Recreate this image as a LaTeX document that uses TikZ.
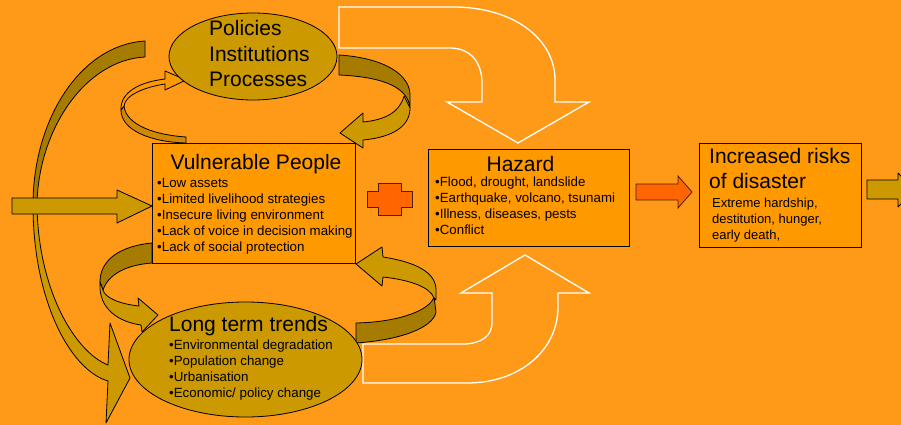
\documentclass[tikz,border=0pt]{standalone}
\usepackage{fontspec}
\setmainfont{Liberation Sans}
\usetikzlibrary{shapes.geometric}
\definecolor{bgor}{RGB}{254,154,24}
\definecolor{boxor}{RGB}{255,153,0}
\definecolor{gold}{RGB}{204,153,0}
\definecolor{dgold}{RGB}{166,124,0}
\definecolor{midor}{RGB}{208,136,0}
\definecolor{redor}{RGB}{255,102,0}
\begin{document}
\begin{tikzpicture}[x=1pt,y=-1pt,
  box/.style={draw=black, fill=boxor, line width=0.8pt, inner sep=0pt, anchor=north west},
  oval/.style={draw=black, fill=gold, ellipse, line width=0.8pt, inner sep=0pt},
  back/.style={draw=black, fill=dgold, line width=0.8pt, line join=round},
  front/.style={draw=black, fill=gold, line width=0.8pt, line join=round},
  hollow/.style={draw=white, line width=1.3pt, line join=miter},
  big/.style={font=\fontsize{21}{25}\selectfont, inner sep=0pt, anchor=base west},
  bigc/.style={font=\fontsize{21}{25}\selectfont, inner sep=0pt, anchor=base},
  small/.style={font=\fontsize{13.3}{16}\selectfont, inner sep=0pt, anchor=base west}]
\useasboundingbox (0,0) rectangle (901,425);
\clip (0,0) rectangle (901,425);
\fill[bgor] (0,0) rectangle (901,425);

% white hollow arrows
\draw[hollow] (339,7) -- (453,7) .. controls (515,7) and (555,40) .. (555,80)
  -- (555,102) -- (589,102) -- (518,143) -- (447,102) -- (482,102) -- (482,83)
  .. controls (482,62) and (470,48) .. (450,48) -- (339,48) -- cycle;
\draw[hollow] (363,344) -- (463,344) .. controls (482,344) and (492,335) .. (492,323)
  -- (492,293) -- (461,293) -- (525,255) -- (589,293) -- (558,293) -- (558,307)
  .. controls (558,350) and (520,383) .. (467,383) -- (363,383) -- cycle;

% big left curved arrow
\draw[back] (145,41) .. controls (80,45) and (33,120) .. (33,205) -- (37,205)
  .. controls (38,130) and (85,60) .. (145,57) -- cycle;
\draw[front] (37,205) .. controls (38,290) and (75,352) .. (108,365) -- (110,323)
  -- (130,378) -- (106,423) -- (108,381) .. controls (70,370) and (33,300) .. (33,205) -- cycle;

% straight left arrow
\draw[front] (12,198) -- (117,198) -- (117,190) -- (152,206) -- (117,223) -- (117,214) -- (12,214) -- cycle;

% top-left small curved arrow (VP -> Policies)
\draw[draw=black, fill=midor, line width=0.8pt] (124,106) .. controls (126,125) and (155,135) .. (186,137)
  -- (186,143) .. controls (150,142) and (121,130) .. (121,110) -- cycle;
\draw[draw=black, fill=boxor, line width=0.8pt, line join=round] (121,110) .. controls (120,92) and (140,82) .. (165,79)
  -- (165,71) -- (186,80) -- (165,90) -- (165,84) .. controls (145,87) and (125,95) .. (124,106) -- cycle;

% top-right curved arrow (Policies -> VP)
\draw[back] (339,55) .. controls (385,58) and (410,75) .. (410,95) -- (410,108)
  .. controls (408,88) and (385,77) .. (339,75) -- cycle;
\draw[front] (404,96) .. controls (400,112) and (385,120) .. (363,122) -- (363,113) -- (340,133)
  -- (363,148) -- (363,140) .. controls (395,137) and (410,125) .. (410,108) -- cycle;

% bottom-left curved arrow (VP -> trends)
\draw[back] (152,243) .. controls (120,246) and (100,260) .. (100,282) -- (103,290)
  .. controls (108,275) and (125,265) .. (152,263) -- cycle;
\draw[front] (100,282) .. controls (98,310) and (120,322) .. (141,325) -- (142,332) -- (158,315)
  -- (138,298) -- (139,306) .. controls (120,304) and (105,298) .. (103,290) -- cycle;

% bottom-right curved arrow (trends -> VP)
\draw[back] (356,323) .. controls (400,322) and (430,310) .. (434,297) -- (436,312)
  .. controls (433,328) and (400,340) .. (356,343) -- cycle;
\draw[front] (383,277) .. controls (410,280) and (430,287) .. (434,298) -- (436,300) -- (436,290)
  .. controls (436,272) and (415,262) .. (383,257) -- (382,247) -- (356,264) -- (382,286) -- cycle;

% ellipses
\node[oval, minimum width=168pt, minimum height=87pt] (pip) at (253,56.5) {};
\node[oval, minimum width=233pt, minimum height=115pt] (ltt) at (245.5,359.5) {};

% boxes
\node[box, minimum width=203pt, minimum height=120pt] (vp) at (152,143) {};
\node[box, minimum width=201pt, minimum height=97pt] (hz) at (428,149) {};
\node[box, minimum width=162pt, minimum height=104pt] (rk) at (699,143) {};

% plus sign
\draw[draw=black!70!redor, fill=redor, line width=0.8pt] (378,183) -- (401,183) -- (401,191) -- (412,191) -- (412,207)
  -- (401,207) -- (401,215) -- (378,215) -- (378,207) -- (367,207) -- (367,191) -- (378,191) -- cycle;

% red arrow hazard -> risks
\draw[draw=black!70!redor, fill=redor, line width=0.8pt] (636,184) -- (678,184) -- (678,176) -- (692,192) -- (678,208)
  -- (678,200) -- (636,200) -- cycle;

% right gold arrow
\draw[front] (867,180) -- (898,180) -- (898,173) -- (915,190) -- (898,207) -- (898,199) -- (867,199) -- cycle;

% texts
\node[big] (p1) at (209,35.7) {Policies};
\node[big] (p2) at (209,61.2) {Institutions};
\node[big] (p3) at (209,86.7) {Processes};

\node[bigc] (vpt) at (256,169.3) {Vulnerable People};
\foreach \t [count=\i] in {{•Low assets},{•Limited livelihood strategies},{•Insecure living environment},{•Lack of voice in decision making},{•Lack of social protection}}
  \node[small] (vpb\i) at (157,187.5+15.9*\i-15.9) {\t};

\node[bigc] (hzt) at (520.5,171) {Hazard};
\foreach \t [count=\i] in {{•Flood, drought, landslide},{•Earthquake, volcano, tsunami},{•Illness, diseases, pests},{•Conflict}}
  \node[small] (hzb\i) at (435,186.7+15.8*\i-15.8) {\t};

\node[big] (rk1) at (709,163.3) {Increased risks};
\node[big] (rk2) at (709,188.3) {of disaster};
\foreach \t [count=\i] in {{Extreme hardship,},{destitution, hunger,},{early death,}}
  \node[small, font=\fontsize{13}{16}\selectfont] (rkb\i) at (712,207.7+15.7*\i-15.7) {\t};

\node[big] (ltt1) at (169,331.7) {Long term trends};
\foreach \t [count=\i] in {{•Environmental degradation},{•Population change},{•Urbanisation},{•Economic/ policy change}}
  \node[small] (lttb\i) at (169,349.3+16*\i-16) {\t};
\end{tikzpicture}
\end{document}
